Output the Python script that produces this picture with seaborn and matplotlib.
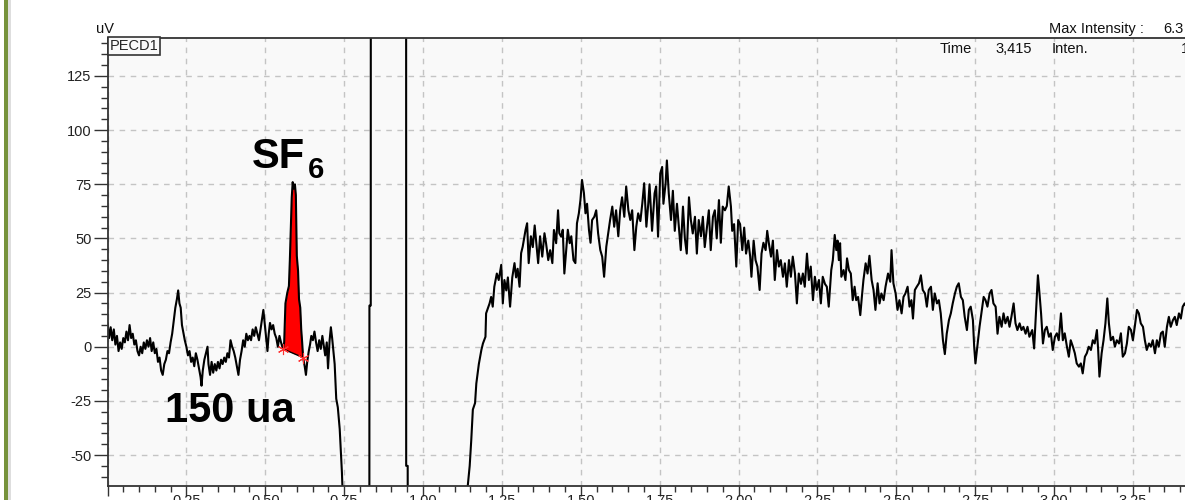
import numpy as np
import pandas as pd
import matplotlib
matplotlib.use('Agg')
import matplotlib.pyplot as plt
import seaborn as sns
from matplotlib.ticker import MultipleLocator, FuncFormatter
from matplotlib.patches import Rectangle

# PECD1 trace: time (min) and signal (uV)
base_time = [0.000, 0.005, 0.010, 0.015, 0.020, 0.025, 0.030, 0.035, 0.040, 0.045,
             0.050, 0.055, 0.060, 0.065, 0.070, 0.075, 0.080, 0.085, 0.090, 0.095,
             0.100, 0.105, 0.110, 0.115, 0.120, 0.125, 0.130, 0.135, 0.140, 0.145,
             0.150, 0.155, 0.160, 0.165, 0.170, 0.175, 0.180, 0.185, 0.190, 0.195,
             0.200, 0.205, 0.210, 0.215, 0.220, 0.224, 0.228, 0.232, 0.236, 0.240,
             0.245, 0.250, 0.255, 0.260, 0.265, 0.270, 0.275, 0.280, 0.285, 0.290,
             0.295, 0.298, 0.302, 0.307, 0.312, 0.317, 0.320, 0.325, 0.330, 0.335,
             0.340, 0.345, 0.350, 0.355, 0.360, 0.365, 0.370, 0.375, 0.380, 0.385,
             0.390, 0.395, 0.400, 0.405, 0.410, 0.415, 0.420, 0.425, 0.430, 0.435,
             0.440, 0.445, 0.450, 0.455, 0.460, 0.465, 0.470, 0.475, 0.480, 0.485,
             0.490, 0.494, 0.498, 0.503, 0.507, 0.511, 0.515, 0.520, 0.525, 0.530,
             0.535, 0.540, 0.545, 0.550]
base_uv = [11, 4, 9, 3, 8, 1, 5, -2, 2, -1,
           4, 2, 7, 3, 10, 4, 6, 1, 3, -2,
           -4, 0, -3, 2, -1, 3, 0, 4, -2, 2,
           -3, -1, -7, -5, -11, -13, -8, -6, -2, -3,
           2, 6, 12, 18, 22, 26, 20, 18, 10, 7,
           3, 0, -4, -2, -7, -5, -9, -3, -6, -10,
           -14, -18, -11, -6, -3, 0, -8, -13, -7, -12,
           -8, -11, -7, -10, -6, -8, -5, -7, -3, -5,
           3, 0, -2, -5, -9, -13, -6, -2, 3, 0,
           6, 3, 5, 3, 8, 5, 9, 6, 3, 8,
           13, 17, 11, 4, -2, 6, 11, 8, 10, 6,
           4, 0, 5, 2]

peak_time = [0.556, 0.560, 0.564, 0.570, 0.575, 0.578, 0.581, 0.584, 0.587, 0.590,
             0.594, 0.597, 0.600, 0.604, 0.607, 0.611, 0.614, 0.617, 0.620, 0.625,
             0.629, 0.633, 0.638, 0.642, 0.646, 0.651, 0.656, 0.661, 0.666, 0.671,
             0.676, 0.681, 0.686, 0.690, 0.695, 0.699, 0.704, 0.708, 0.712, 0.716,
             0.720, 0.725, 0.730, 0.736, 0.740, 0.743, 0.746]
peak_uv = [-1, 2, 20, 25, 28, 40, 55, 69, 76, 73,
           75, 70, 42, 35, 22, 18, 8, 2, -5, -9,
           -13, -7, -2, 1, 5, 3, 7, 2, -2, 3,
           -1, 5, 0, -4, 2, -10, 3, 9, 4, -2,
           -8, -24, -28, -38, -50, -58, -70]

# detector off scale (below, above, below again)
offscale_time = [0.750, 0.8300, 0.8302, 0.8344, 0.8346, 0.9465, 0.9467, 0.9515, 0.9517, 1.138]
offscale_uv = [-90, -90, 19, 19, 200, 200, -55, -55, -90, -90]

rise_time = [1.142, 1.148, 1.153, 1.158, 1.165, 1.169, 1.177, 1.185, 1.190, 1.198,
             1.200, 1.211, 1.216, 1.221, 1.226, 1.234, 1.240, 1.248, 1.253, 1.258,
             1.264, 1.269, 1.276, 1.283, 1.290, 1.295, 1.300, 1.306, 1.311, 1.316,
             1.325, 1.330, 1.335, 1.342, 1.348, 1.354, 1.361, 1.365, 1.371, 1.378,
             1.385, 1.390, 1.397, 1.403, 1.410, 1.415, 1.422, 1.428, 1.432, 1.438,
             1.443, 1.448, 1.454, 1.459, 1.465, 1.470, 1.477, 1.483, 1.488, 1.494,
             1.499, 1.504, 1.510, 1.515, 1.520, 1.526, 1.531, 1.536, 1.543, 1.549,
             1.555, 1.562, 1.568, 1.574, 1.581, 1.587, 1.593, 1.600, 1.606, 1.612,
             1.619, 1.625, 1.631, 1.638, 1.644, 1.651, 1.657, 1.663, 1.670, 1.676,
             1.682, 1.689, 1.695, 1.701, 1.708, 1.714]
rise_uv = [-64, -55, -43, -29, -26, -17, -8, -1.5, 1.5, 4.6,
           15.4, 20, 23, 18.5, 27.7, 33.8, 30.8, 37.8, 20, 30.8,
           26, 32, 18.5, 32, 38.6, 32, 36, 27.7, 43.2, 46.2,
           53.9, 57, 38.6, 51, 46, 56, 44.6, 38.6, 51, 41.6,
           52.4, 47.8, 40, 44.6, 38.6, 53.9, 47.8, 63, 52.4, 50.8,
           54, 33.8, 44.6, 54, 47.8, 51, 40, 38.6, 57, 61.6,
           67.7, 77, 71, 61.6, 66, 54, 48, 58.5, 60, 63,
           52.4, 44.6, 41.6, 32.3, 46.2, 52.4, 58.5, 64.7, 55.4, 63,
           51, 63, 69, 60, 74, 63, 58.5, 63, 44.6, 55.4,
           61.6, 58, 66, 75.5, 55.4, 66]

hump_time = [1.718, 1.726, 1.734, 1.739, 1.745, 1.752, 1.758, 1.762, 1.769, 1.773,
             1.779, 1.786, 1.792, 1.798, 1.805, 1.811, 1.817, 1.824, 1.830, 1.836,
             1.843, 1.849, 1.855, 1.862, 1.868, 1.874, 1.881, 1.887, 1.893, 1.900,
             1.906, 1.912, 1.919, 1.925, 1.931, 1.938, 1.944, 1.950, 1.957, 1.963,
             1.969, 1.976, 1.980, 1.986, 1.993, 1.999, 2.005, 2.012, 2.018, 2.024,
             2.031, 2.037, 2.041, 2.048, 2.054, 2.060, 2.067, 2.073, 2.079, 2.086,
             2.091, 2.096, 2.103, 2.109, 2.115, 2.122, 2.128, 2.134, 2.141, 2.147,
             2.153, 2.160, 2.166, 2.172, 2.179, 2.185, 2.191, 2.198, 2.204, 2.210,
             2.217, 2.223, 2.229, 2.236, 2.242, 2.248, 2.255, 2.261, 2.267, 2.274,
             2.280, 2.286]
hump_uv = [75, 53.5, 70.8, 74, 50.8, 80, 83, 66, 75.5, 86,
           70.8, 58.5, 72, 53.5, 66, 55, 44.6, 64.7, 50, 43,
           69, 58.5, 52.3, 60, 43, 58.5, 51, 60, 46, 55,
           63, 44.6, 60, 63, 50, 67.7, 48, 64.7, 63, 65,
           74, 64.7, 53.5, 56.6, 37, 58.5, 56.6, 44.6, 55, 43,
           49, 41.6, 32.3, 49, 40, 37, 26.2, 43, 48, 44.6,
           53.5, 48, 41.6, 49, 30.8, 44.6, 37, 40, 32.3, 38.5,
           27.7, 40, 32.3, 41.6, 33.8, 20, 33.8, 29, 33.8, 27.7,
           43, 30.8, 37, 21.5, 32.3, 26.2, 30.8, 20, 32.3, 29,
           27.7, 18.5]

tail_time = [2.294, 2.299, 2.305, 2.310, 2.314, 2.318, 2.322, 2.326, 2.333, 2.339,
             2.344, 2.350, 2.356, 2.362, 2.368, 2.373, 2.379, 2.386, 2.391, 2.396,
             2.403, 2.409, 2.415, 2.422, 2.428, 2.434, 2.441, 2.447, 2.453, 2.460,
             2.466, 2.474, 2.481, 2.485, 2.491, 2.498, 2.504, 2.510, 2.517, 2.523,
             2.529, 2.536, 2.542, 2.548, 2.553, 2.559, 2.565, 2.572, 2.578, 2.584,
             2.591, 2.597, 2.603, 2.610, 2.616, 2.622, 2.629, 2.635, 2.641, 2.648,
             2.654, 2.660, 2.667, 2.673, 2.679, 2.686, 2.692, 2.698, 2.705, 2.711,
             2.717, 2.724, 2.730, 2.736, 2.743, 2.747, 2.751, 2.758, 2.764, 2.770,
             2.777, 2.783, 2.789, 2.796, 2.802, 2.808, 2.815, 2.821, 2.827, 2.834,
             2.840, 2.846, 2.853, 2.859, 2.865, 2.872, 2.878, 2.884, 2.891, 2.897,
             2.903, 2.910, 2.916, 2.922]
tail_uv = [35.4, 40, 51.6, 44.6, 49, 40, 47.8, 32.3, 35.4, 30.8,
           40.8, 35.4, 33.8, 21.5, 27.7, 21.5, 23, 14.6, 23, 30.8,
           38.5, 33.8, 42, 30.8, 26.2, 17, 29.3, 20, 24.6, 21.5,
           27.7, 33.8, 30, 44.6, 29.3, 24.6, 17, 21.5, 15.4, 23,
           24.6, 27.7, 18.5, 21.5, 13, 26.2, 27.7, 29.3, 33, 26.2,
           24.6, 18.5, 26.2, 27.7, 17, 24.6, 20, 21.5, 15.4, 3,
           -3.4, 6, 12.3, 15.4, 20, 24.6, 27.7, 29.3, 23, 21.5,
           13.8, 7.7, 17, 18.5, 12.3, 0, -7.7, 1.5, 9.2, 15.4,
           23, 21.5, 18.5, 24.6, 26.2, 20, 18.5, 6, 13.8, 9.2,
           15.4, 10.8, 13.8, 9.2, 13.8, 20, 10.8, 7.7, 10.8, 7.7,
           9.2, 6, 9.2, 4.6]

end_time = [2.931, 2.937, 2.944, 2.949, 2.954, 2.959, 2.965, 2.971, 2.977, 2.984,
            2.990, 2.996, 3.003, 3.009, 3.015, 3.022, 3.028, 3.034, 3.041, 3.047,
            3.053, 3.060, 3.066, 3.072, 3.079, 3.085, 3.091, 3.098, 3.104, 3.110,
            3.117, 3.123, 3.129, 3.136, 3.140, 3.144, 3.151, 3.157, 3.163, 3.169,
            3.174, 3.180, 3.187, 3.193, 3.199, 3.206, 3.212, 3.218, 3.225, 3.231,
            3.237, 3.244, 3.250, 3.256, 3.263, 3.269, 3.275, 3.282, 3.288, 3.294,
            3.301, 3.307, 3.313, 3.320, 3.326, 3.332, 3.339, 3.345, 3.351, 3.358,
            3.364, 3.370, 3.377, 3.383, 3.389, 3.396, 3.402, 3.408, 3.414, 3.425]
end_uv = [7.7, -0.8, 18.5, 33, 24.6, 15.4, 1.5, 7.7, 9.2, 4.6,
          6.2, -1.5, 4.6, 6.2, 3, 15.4, 3, 6.2, 0, -4.6,
          3, 0, -3, -7.7, -9.2, -7.7, -12.3, -4.6, -3, 0,
          -1.5, 3, 1.5, 7.7, -1.5, -13.8, -3, 3, 10.8, 22.3,
          10.8, 3, 4.6, 0, 3, 1.5, 6.2, -4.6, -3, 1.5,
          9.2, 7.7, 3, 9.2, 17, 15.4, 10.8, 9.2, 3, -1.5,
          1.5, 0, 3, -3, 3, 0, 6.2, 7, 0, 9.2,
          13.8, 9.2, 12.3, 13.8, 10, 15.4, 13, 18.5, 20, 17]

# SF6 integration limits (time, uV)
sf6_start = (0.556, -1)
sf6_end = (0.620, -5)

df = pd.DataFrame({
    'Time': np.concatenate([base_time, peak_time, offscale_time, rise_time,
                            hump_time, tail_time, end_time]),
    'Signal': np.concatenate([base_uv, peak_uv, offscale_uv, rise_uv,
                              hump_uv, tail_uv, end_uv]),
})

sns.set_theme(style='ticks')
plt.rcParams['font.family'] = ['Liberation Sans', 'DejaVu Sans']
plt.rcParams['axes.unicode_minus'] = False

W, H = 1185, 500
fig = plt.figure(figsize=(W / 100, H / 100), dpi=100)
fig.patch.set_facecolor('white')
ax = fig.add_axes([107.5 / W, 14 / H, 3.6 * 315.5 / W, 447.7 / H])
ax.set_facecolor('#f9f9f9')
ax.set_axisbelow(True)

# red integrated area of the SF6 peak
pk = df[(df.Time >= sf6_start[0]) & (df.Time <= sf6_end[0])]
base = np.interp(pk.Time, [sf6_start[0], sf6_end[0]], [sf6_start[1], sf6_end[1]])
ax.fill_between(pk.Time, pk.Signal, base, color='#ff0000', lw=0, zorder=1.5)
ax.plot([sf6_start[0], sf6_end[0]], [sf6_start[1], sf6_end[1]], color='black', lw=1, zorder=2.5)

sns.lineplot(data=df, x='Time', y='Signal', sort=False, estimator=None,
             color='black', linewidth=1.5, ax=ax, zorder=2)

ax.plot([sf6_start[0], sf6_end[0]], [sf6_start[1], sf6_end[1]], ls='none',
        marker=(6, 2, 0), ms=8, mew=0.8, color='#ff3030', zorder=3)

ax.set_xlim(0, 3.6)
ax.set_ylim(-64.3, 142.4)
ax.set_xlabel('')
ax.set_ylabel('')

ax.grid(True, which='major', color='#c4c4c4', linestyle=(0, (4, 4)), linewidth=1)
ax.xaxis.set_major_locator(MultipleLocator(0.25))
ax.xaxis.set_minor_locator(MultipleLocator(0.05))
ax.yaxis.set_major_locator(MultipleLocator(25))
ax.yaxis.set_minor_locator(MultipleLocator(5))
ax.xaxis.set_major_formatter(FuncFormatter(lambda v, p: '' if v < 0.01 else f'{v:.2f}'))
ax.yaxis.set_major_formatter(FuncFormatter(lambda v, p: f'{v:.0f}'))
ax.tick_params(which='both', direction='out', color='#333333', width=1)
ax.tick_params(axis='y', which='major', length=10, pad=1.5, labelsize=10.5, labelcolor='#222222')
ax.tick_params(axis='y', which='minor', length=5)
ax.tick_params(axis='x', which='major', length=7, pad=-1, labelsize=10.5, labelcolor='#222222')
ax.tick_params(axis='x', which='minor', length=4.5)
for s in ax.spines.values():
    s.set_color('#333333')
    s.set_linewidth(1.3)

# annotations
ax.text(0.4564, 82.5, 'SF', fontsize=30, fontweight='bold', va='baseline', color='black')
ax.text(0.634, 77.9, '6', fontsize=21, fontweight='bold', va='baseline', color='black')
ax.text(0.1807, -34.8, '150 ua', fontsize=30, fontweight='bold', va='baseline', color='black')
ax.text(0.002, 0.998, 'PECD1', transform=ax.transAxes, ha='left', va='top', fontsize=10.5,
        bbox=dict(boxstyle='square,pad=0.12', fc='#f9f9f9', ec='#333333', lw=1.2))

def ftext(px, py, s, **kw):
    fig.text(px / W, 1 - py / H, s, fontsize=10.5, va='baseline', color='#111111', **kw)

ftext(96, 33, 'uV')
ftext(1049, 33, 'Max Intensity :')
ftext(1163, 33, '6.3')
ftext(940, 53, 'Time')
ftext(995, 53, '3,415')
ftext(1052, 53, 'Inten.')
ftext(1181, 53, '1')

# slide frame on the left
fig.add_artist(Rectangle((4 / W, 0), 3.5 / W, 1, transform=fig.transFigure, color='#76923c', lw=0))
fig.add_artist(Rectangle((7.5 / W, 0), 3 / W, 1, transform=fig.transFigure, color='#dedede', lw=0))

fig.savefig('out.png', dpi=100)
